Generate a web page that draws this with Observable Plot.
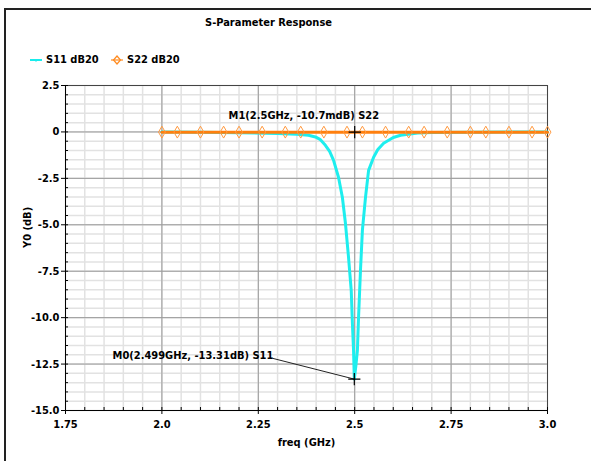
<!DOCTYPE html>
<html><head><meta charset="utf-8">
<script src="https://cdn.jsdelivr.net/npm/d3@7"></script>
<script src="https://cdn.jsdelivr.net/npm/@observablehq/plot@0.6"></script>
<style>
body{margin:0;background:#fff;}
#wrap{position:relative;width:591px;height:461px;overflow:hidden;font-family:"DejaVu Sans Condensed","DejaVu Sans",sans-serif;font-weight:bold;font-size:11px;color:#000;}
#border{position:absolute;left:4px;top:8px;width:600px;height:500px;border-top:2px solid #222;border-left:2px solid #222;}
#title{position:absolute;left:205px;top:16px;white-space:nowrap;}
.leg{position:absolute;top:53px;white-space:nowrap;display:flex;align-items:center;}
.leg svg{margin-right:4px;}
#chart{position:absolute;left:0;top:0;}
</style></head><body><div id="wrap">
<div id="chart"></div>
<div id="border"></div>
<div id="title">S-Parameter Response</div>
<div class="leg" style="left:30px"><svg width="12" height="10"><line x1="0" y1="5" x2="12" y2="5" stroke="#19ecec" stroke-width="2"/><path d="M3.5,4 L8.5,4 L6,7 Z" fill="#19ecec"/></svg>S11 dB20</div>
<div class="leg" style="left:111px"><svg width="12" height="10"><line x1="0" y1="5" x2="12" y2="5" stroke="#ff8a1e" stroke-width="1.2"/><path d="M6,1 L9.5,5 L6,9 L2.5,5 Z" fill="none" stroke="#ff8a1e" stroke-width="1.2"/></svg>S22 dB20</div>
</div>
<script>
const xTicks = [1.75, 2.0, 2.25, 2.5, 2.75, 3.0];
const xTickLabels = ["1.75", "2.0", "2.25", "2.5", "2.75", "3.0"];
const yTicks = [2.5, 0, -2.5, -5, -7.5, -10, -12.5, -15];
const yTickLabels = ["2.5", "0", "-2.5", "-5.0", "-7.5", "-10.0", "-12.5", "-15.0"];

const s11Freq = [2.0, 2.1, 2.2, 2.3, 2.35, 2.38, 2.398, 2.41, 2.424, 2.435, 2.445, 2.458, 2.468, 2.476, 2.484, 2.491, 2.494, 2.497, 2.499, 2.503, 2.507, 2.510, 2.515, 2.520, 2.528, 2.536, 2.549, 2.56, 2.575, 2.6, 2.619, 2.663, 2.7, 2.8, 2.9, 3.0];
const s11dB = [-0.01, -0.02, -0.04, -0.08, -0.12, -0.18, -0.27, -0.4, -0.72, -1.05, -1.52, -2.44, -3.52, -4.92, -6.75, -8.53, -10.3, -11.76, -13.31, -12.6, -11.76, -9.98, -7.45, -5.29, -3.52, -2.07, -1.36, -0.95, -0.61, -0.3, -0.18, -0.06, -0.03, -0.02, -0.01, -0.01];

const s22Freq = [2.0, 2.04, 2.1, 2.16, 2.2, 2.26, 2.32, 2.36, 2.42, 2.48, 2.52, 2.58, 2.64, 2.68, 2.74, 2.8, 2.84, 2.9, 2.96, 3.0];
const s22dB = [-0.011, -0.011, -0.011, -0.011, -0.011, -0.011, -0.011, -0.011, -0.011, -0.011, -0.011, -0.011, -0.011, -0.011, -0.011, -0.011, -0.011, -0.011, -0.011, -0.011];

const markerFreq = [2.5, 2.499];
const markerDB = [-0.0107, -13.31];
const markerLabels = ["M1(2.5GHz, -10.7mdB) S22", "M0(2.499GHz, -13.31dB) S11"];

const s11 = s11Freq.map((f, i) => ({f, v: s11dB[i]}));
const s22 = s22Freq.map((f, i) => ({f, v: s22dB[i]}));
const markers = markerFreq.map((f, i) => ({f, v: markerDB[i], label: markerLabels[i]}));

const minorX = d3.range(1.75, 3.0001, 0.05).map(d => +d.toFixed(2));
const minorY = d3.range(-15, 2.5001, 0.5).map(d => +d.toFixed(1));

const fx = d => xTickLabels[xTicks.indexOf(d)];
const fy = d => yTickLabels[yTicks.indexOf(d)];

const chart = Plot.plot({
  width: 591, height: 461,
  marginTop: 85, marginBottom: 51, marginLeft: 65, marginRight: 44,
  style: {fontFamily: '"DejaVu Sans Condensed","DejaVu Sans",sans-serif', fontWeight: "bold", fontSize: "11px", color: "#000", background: "transparent"},
  x: {domain: [1.75, 3.0]},
  y: {domain: [-15, 2.5]},
  marks: [
    Plot.gridX(minorX, {stroke: "#e2e2e2", strokeOpacity: 1, strokeWidth: 1.5}),
    Plot.gridY(minorY, {stroke: "#e2e2e2", strokeOpacity: 1, strokeWidth: 1.5}),
    Plot.gridX(xTicks, {stroke: "#9a9a9a", strokeOpacity: 1}),
    Plot.gridY(yTicks, {stroke: "#9a9a9a", strokeOpacity: 1}),
    Plot.frame({stroke: "#444"}),
    Plot.axisX(xTicks, {tickFormat: fx, tickSize: 4, tickPadding: 6, label: null, stroke: "#000"}),
    Plot.axisX(minorX, {tickFormat: null, text: null, tickSize: -3, label: null, stroke: "#000"}),
    Plot.axisY(yTicks, {tickFormat: fy, tickSize: 4, tickPadding: 2, label: null, stroke: "#000"}),
    Plot.axisY(minorY, {tickFormat: null, text: null, tickSize: -3, label: null, stroke: "#000"}),
    Plot.ruleX([1.75], {stroke: "#000"}),
    Plot.ruleY([-15], {stroke: "#000"}),
    Plot.text(["freq (GHz)"], {frameAnchor: "bottom", dy: 28, lineAnchor: "top", fontSize: 11}),
    Plot.text(["Y0 (dB)"], {frameAnchor: "left", dx: -38, rotate: -90, fontSize: 11}),
    Plot.line(s11, {x: "f", y: "v", stroke: "#1eeeee", strokeWidth: 3}),
    Plot.line(s22, {x: "f", y: "v", stroke: "#ff7f0e", strokeWidth: 3}),
    Plot.dot(s22, {x: "f", y: "v", symbol: "diamond", r: 3.6, stroke: "#ff9a40", fill: "none", strokeWidth: 1}),
    Plot.link([markers[1]], {x1: 2.287, y1: -12.19, x2: "f", y2: "v", stroke: "#222", strokeWidth: 1}),
    Plot.dot(markers, {x: "f", y: "v", symbol: "plus", r: 4, stroke: "#000", strokeWidth: 1.2}),
    Plot.text([markers[0]], {x: 2.173, y: 0.9, text: "label", textAnchor: "start", fontSize: 11}),
    Plot.text([markers[1]], {x: 1.872, y: -12.03, text: "label", textAnchor: "start", fontSize: 11})
  ]
});
document.getElementById("chart").appendChild(chart);
</script>
</body></html>
